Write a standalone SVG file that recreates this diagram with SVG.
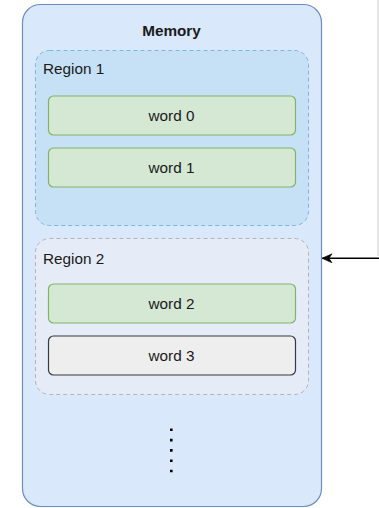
<svg xmlns="http://www.w3.org/2000/svg" width="379" height="508" viewBox="0 0 379 508">
<style>
text{font-family:"Liberation Sans",Arial,sans-serif;font-size:15.3px;fill:#1a1a1a}
.word{fill:#d5e8d4;stroke:#82b366;stroke-width:1.2}
.gray{fill:#eeeeee;stroke:#36393d;stroke-width:1.2}
.c{text-anchor:middle}
</style>
<defs>
<marker id="arr" viewBox="0 0 10 10" refX="9.5" refY="5" markerWidth="11" markerHeight="10" markerUnits="userSpaceOnUse" orient="auto">
<path d="M0,0.5 L10,5 L0,9.5 L3,5 Z" fill="#000" stroke="#000" stroke-width="0.6"/>
</marker>
</defs>
<rect width="379" height="508" fill="#fff"/>
<g id="memory">
<rect x="22.5" y="4.5" width="299" height="502" rx="18" fill="#dae8fc" stroke="#6c8ebf" stroke-width="1.2"/>
<text x="171.5" y="36" class="c" font-weight="bold">Memory</text>
<line x1="171.3" y1="428.5" x2="171.3" y2="473" stroke="#000" stroke-width="2.6" stroke-dasharray="2.6 7.7"/>
</g>
<g id="region1">
<rect x="35.5" y="50.5" width="273" height="175" rx="14" fill="#c6e0f5" stroke="#7ab8dc" stroke-width="1" stroke-dasharray="4 3"/>
<text x="43" y="74">Region 1</text>
</g>
<g id="word0">
<rect x="48.5" y="96" width="247" height="39" rx="5" class="word"/>
<text x="171.5" y="120.5" class="c">word 0</text>
</g>
<g id="word1">
<rect x="48.5" y="148" width="247" height="39" rx="5" class="word"/>
<text x="171.5" y="172.5" class="c">word 1</text>
</g>
<g id="region2">
<rect x="35.5" y="238.5" width="273" height="156" rx="14" fill="#e5ecf7" stroke="#b3b3b3" stroke-width="1" stroke-dasharray="4 3"/>
<text x="43" y="263.5">Region 2</text>
</g>
<g id="word2">
<rect x="48.5" y="284" width="247" height="39" rx="5" class="word"/>
<text x="171.5" y="308.5" class="c">word 2</text>
</g>
<g id="word3">
<rect x="48.5" y="336" width="247" height="39" rx="5" class="gray"/>
<text x="171.5" y="360.5" class="c">word 3</text>
</g>
<g id="connectors">
<line x1="378" y1="0" x2="378" y2="256" stroke="#cccccc" stroke-width="1"/>
<line x1="379" y1="258.3" x2="322.5" y2="258.3" stroke="#000" stroke-width="1.6" marker-end="url(#arr)"/>
</g>
</svg>
